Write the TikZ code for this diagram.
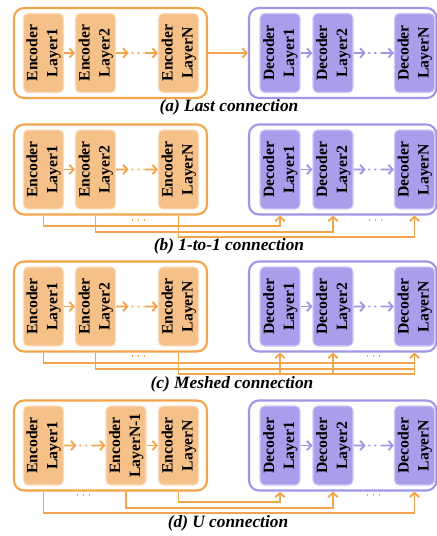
\documentclass[tikz,border=0pt]{standalone}
\usepackage{fontspec}
\usepackage{graphicx}
\setmainfont{Liberation Serif}
\usetikzlibrary{arrows.meta,calc}

\definecolor{encline}{HTML}{F2A54A}
\definecolor{encfill}{HTML}{F6C189}
\definecolor{decline}{HTML}{A196E6}
\definecolor{decfill}{HTML}{A99EEB}

% two-line label turned to read upwards
\newcommand\layertext[2]{\rotatebox{90}{\begin{tabular}{@{}c@{}}#1\\#2\end{tabular}}}

% arrow, dotted gap, arrow between two neighbouring layers
\newcommand\gaparrow[3]{%
  \draw[#1,-barb] (#2.east) -- ($(#2.east)!0.30!(#3.west)$);
  \draw[#1,dash pattern=on 1.4pt off 3.1pt] ($(#2.east)!0.37!(#3.west)$) -- ($(#2.east)!0.67!(#3.west)$);
  \draw[#1,-barb] ($(#2.east)!0.68!(#3.west)$) -- (#3.west);}

% decoder block with its three layers
\newcommand\decoderstack[2]{%
  \node[decouter] (db#1) at (342.75,#2) {};
  \node[declayer] (d1#1) at (280,#2) {\layertext{Decoder}{Layer1}};
  \node[declayer] (d2#1) at (333,#2) {\layertext{Decoder}{Layer2}};
  \node[declayer] (dN#1) at (414.5,#2) {\layertext{Decoder}{LayerN}};
  \draw[decwire,-barb] (d1#1) -- (d2#1);
  \gaparrow{decwire}{d2#1}{dN#1}}

% horizontal run of three dots
\newcommand\dotrun[2]{%
  \draw[encwire,dash pattern=on 1.4pt off 3.1pt] (#1-6.5,#2) -- (#1+6.8,#2);}

\tikzset{
  barb/.tip={Straight Barb[length=3.2pt,width=7pt]},
  encwire/.style={draw=encline,line width=1.4pt},
  decwire/.style={draw=decline,line width=1.4pt},
  outer/.style={line width=1.6pt,rounded corners=7.5pt,minimum height=67.5pt,inner sep=0pt,fill=white},
  encouter/.style={outer,draw=encline,minimum width=144.75pt},
  decouter/.style={outer,draw=decline,minimum width=140.6pt},
  layer/.style={rounded corners=3.5pt,minimum width=29.25pt,minimum height=59.25pt,inner sep=0pt,
    line width=0.8pt,font=\fontsize{11.8}{15}\selectfont\bfseries},
  enclayer/.style={layer,fill=encfill,draw=encfill!55!white},
  declayer/.style={layer,fill=decfill,draw=decfill!55!white},
  caption/.style={font=\fontsize{13}{15}\selectfont\bfseries\itshape},
}

\begin{document}
\begin{tikzpicture}[x=0.75pt,y=-0.75pt]
\fill[white] (0,0) rectangle (436,536);
\useasboundingbox (0,0) rectangle (436,536);

% ---------- (a) last connection ----------
\node[encouter] (ebA) at (110.5,53) {};
\node[enclayer] (e1A) at (43.5,53) {\layertext{Encoder}{Layer1}};
\node[enclayer] (e2A) at (95.5,53) {\layertext{Encoder}{Layer2}};
\node[enclayer] (eNA) at (178.5,53) {\layertext{Encoder}{LayerN}};
\draw[encwire,-barb] (e1A) -- (e2A);
\gaparrow{encwire}{e2A}{eNA}
\decoderstack{A}{53}
\draw[encwire,-barb] (ebA) -- (dbA);
\node[caption] (capA) at (229,107) {(a) Last connection};

% ---------- (b) 1-to-1 connection ----------
\node[encouter] (ebB) at (110.5,169.5) {};
\node[enclayer] (e1B) at (43.5,169.5) {\layertext{Encoder}{Layer1}};
\node[enclayer] (e2B) at (95.5,169.5) {\layertext{Encoder}{Layer2}};
\node[enclayer] (eNB) at (178.5,169.5) {\layertext{Encoder}{LayerN}};
\draw[encwire,-barb] (e1B) -- (e2B);
\gaparrow{encwire}{e2B}{eNB}
\decoderstack{B}{169.5}
\draw[encwire,-barb] (e1B |- ebB.south) |- ($(d1B |- dbB.south)+(0,10.5)$) -- (d1B |- dbB.south);
\draw[encwire,-barb] (e2B |- ebB.south) |- ($(d2B |- dbB.south)+(0,16)$) -- (d2B |- dbB.south);
\draw[encwire,-barb] (eNB |- ebB.south) |- ($(dNB |- dbB.south)+(0,21.5)$) -- (dNB |- dbB.south);
\dotrun{138}{220}
\dotrun{375}{220}
\node[caption] (capB) at (229,246) {(b) 1-to-1 connection};

% ---------- (c) meshed connection ----------
\node[encouter] (ebC) at (110.5,306.5) {};
\node[enclayer] (e1C) at (43.5,306.5) {\layertext{Encoder}{Layer1}};
\node[enclayer] (e2C) at (95.5,306.5) {\layertext{Encoder}{Layer2}};
\node[enclayer] (eNC) at (178.5,306.5) {\layertext{Encoder}{LayerN}};
\draw[encwire,-barb] (e1C) -- (e2C);
\gaparrow{encwire}{e2C}{eNC}
\decoderstack{C}{306.5}
\draw[encwire] (e1C |- ebC.south) |- ($(dNC |- dbC.south)+(0,10.5)$);
\draw[encwire] (e2C |- ebC.south) |- ($(dNC |- dbC.south)+(0,16)$);
\draw[encwire] (eNC |- ebC.south) |- ($(dNC |- dbC.south)+(0,21.5)$);
\draw[encwire,-barb] ($(d1C |- dbC.south)+(0,21.5)$) -- (d1C |- dbC.south);
\draw[encwire,-barb] ($(d2C |- dbC.south)+(0,21.5)$) -- (d2C |- dbC.south);
\draw[encwire,-barb] ($(dNC |- dbC.south)+(0,21.5)$) -- (dNC |- dbC.south);
\dotrun{138}{356}
\dotrun{373}{356}
\node[caption] (capC) at (232,384) {(c) Meshed connection};

% ---------- (d) U connection ----------
\node[encouter] (ebD) at (110.5,445.5) {};
\node[enclayer] (e1D) at (43.5,445.5) {\layertext{Encoder}{Layer1}};
\node[enclayer] (eMD) at (126,445.5) {\layertext{Encoder}{LayerN-1}};
\node[enclayer] (eND) at (178.5,445.5) {\layertext{Encoder}{LayerN}};
\gaparrow{encwire}{e1D}{eMD}
\draw[encwire,-barb] (eMD) -- (eND);
\decoderstack{D}{445.5}
\draw[encwire,-barb] (eND |- ebD.south) |- ($(d1D |- dbD.south)+(0,10.5)$) -- (d1D |- dbD.south);
\draw[encwire,-barb] (eMD |- ebD.south) |- ($(d2D |- dbD.south)+(0,16)$) -- (d2D |- dbD.south);
\draw[encwire,-barb] (e1D |- ebD.south) |- ($(dND |- dbD.south)+(0,21.5)$) -- (dND |- dbD.south);
\dotrun{83}{495}
\dotrun{373}{495}
\node[caption] (capD) at (228,523) {(d) U connection};
\end{tikzpicture}
\end{document}
